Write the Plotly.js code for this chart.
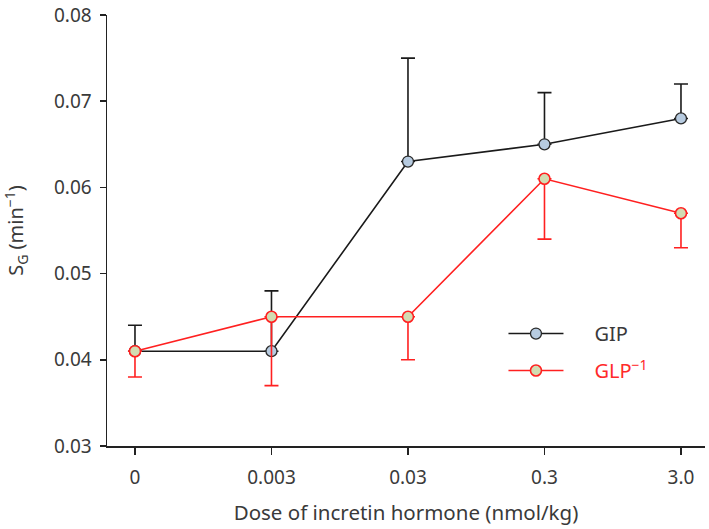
<!DOCTYPE html>
<html>
<head>
<meta charset="utf-8">
<script src="https://cdn.plot.ly/plotly-3.0.1.min.js"></script>
<style>html,body{margin:0;padding:0;background:#fff;}#chart{width:709px;height:529px;}</style>
</head>
<body>
<div id="chart"></div>
<script>
const doses = ['0', '0.003', '0.03', '0.3', '3.0'];
const gipValues = [0.041, 0.041, 0.063, 0.065, 0.068];
const gipErrUp = [0.003, 0.007, 0.012, 0.006, 0.004];
const glpValues = [0.041, 0.045, 0.045, 0.061, 0.057];
const glpErrDown = [0.003, 0.008, 0.005, 0.007, 0.004];
const zeros = [0, 0, 0, 0, 0];

const FONT = 'Noto Sans, Open Sans, sans-serif';
const TXT = '#3a3a3a';

const traces = [
  {
    x: doses, y: gipValues, type: 'scatter', mode: 'lines+markers',
    name: '\u00a0\u00a0\u00a0\u00a0\u00a0GIP', legendgroup: 'a',
    line: {color: '#1a1a1a', width: 1.6},
    marker: {size: 11, color: '#b7cbe0', line: {color: '#2a2a2a', width: 1.3}},
    error_y: {type: 'data', symmetric: false, array: gipErrUp, arrayminus: zeros,
              color: '#1a1a1a', thickness: 1.6, width: 7}
  },
  {
    x: doses, y: glpValues, type: 'scatter', mode: 'lines+markers',
    name: '\u00a0\u00a0\u00a0\u00a0\u00a0<span style="color:#ff2a2a">GLP<sup>−1</sup></span>', legendgroup: 'b',
    line: {color: '#ff2020', width: 1.6},
    marker: {size: 11, color: '#d2dcb2', line: {color: '#ff2020', width: 1.6}},
    error_y: {type: 'data', symmetric: false, array: zeros, arrayminus: glpErrDown,
              color: '#ff2020', thickness: 1.6, width: 7}
  }
];

const layout = {
  width: 709, height: 529,
  margin: {l: 107, r: 4, t: 15, b: 83},
  paper_bgcolor: '#ffffff', plot_bgcolor: '#ffffff',
  font: {family: FONT, size: 19, color: TXT},
  showlegend: true,
  legend: {
    x: 0.663, y: 0.218, xanchor: 'left', yanchor: 'middle',
    bgcolor: 'rgba(0,0,0,0)', font: {family: FONT, size: 20, color: TXT},
    traceorder: 'grouped', tracegroupgap: 8, itemwidth: 55
  },
  xaxis: {
    type: 'category', categoryorder: 'array', categoryarray: doses,
    range: [-0.205, 4.176],
    showline: true, linecolor: '#222', linewidth: 1.5,
    ticks: 'outside', ticklen: 7, tickwidth: 1.5, tickcolor: '#222',
    ticklabelstandoff: 7,
    showgrid: false, zeroline: false,
    tickfont: {family: FONT, size: 19, color: TXT},
    title: {text: 'Dose of incretin hormone (nmol/kg)', standoff: 16,
            font: {family: FONT, size: 20.5, color: TXT}}
  },
  yaxis: {
    range: [0.03, 0.08], dtick: 0.01, tick0: 0.03, tickformat: '.2f',
    showline: true, linecolor: '#222', linewidth: 1.5,
    ticks: 'outside', ticklen: 6, tickwidth: 1.5, tickcolor: '#222',
    ticklabelstandoff: 4,
    showgrid: false, zeroline: false,
    tickfont: {family: FONT, size: 19, color: TXT},
    title: {text: 'S<sub>G</sub> (min<sup>−1</sup>)', standoff: 26,
            font: {family: FONT, size: 20, color: TXT}}
  }
};

Plotly.newPlot('chart', traces, layout, {displayModeBar: false, staticPlot: true});
</script>
</body>
</html>
